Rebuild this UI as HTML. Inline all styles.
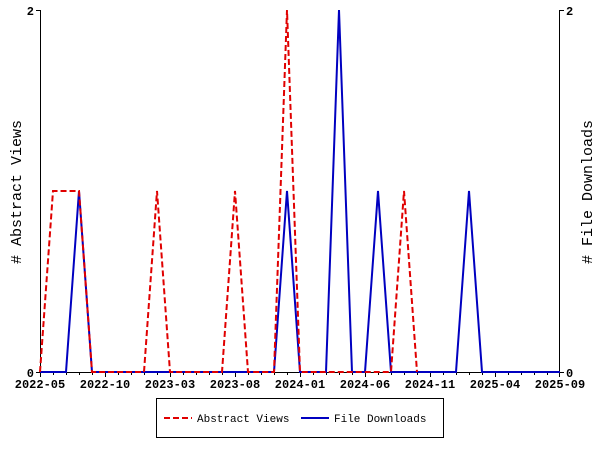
<!DOCTYPE html>
<html><head><style>body{margin:0;background:#fff}svg{display:block}text{font-family:"Liberation Mono","DejaVu Sans Mono",monospace;fill:#000}</style></head>
<body>
<svg width="600" height="450" viewBox="0 0 600 450" xmlns="http://www.w3.org/2000/svg">
<rect width="600" height="450" fill="#fff"/>
<g stroke="#000" stroke-width="1" fill="none">
<line x1="40.5" y1="10" x2="40.5" y2="373"/>
<line x1="559.5" y1="10" x2="559.5" y2="373"/>
<line x1="40" y1="372.5" x2="560" y2="372.5"/>
<path d="M36 10.5H40M36 372.5H40M560 10.5H564M560 372.5H564"/>
<path d="M40.5 372v5M105.5 372v5M170.5 372v5M235.5 372v5M300.5 372v5M365.5 372v5M430.5 372v5M495.5 372v5M559.5 372v5"/>
<path d="M53.5 372v3M66.5 372v3M79.5 372v3M92.5 372v3M118.5 372v3M131.5 372v3M144.5 372v3M157.5 372v3M183.5 372v3M196.5 372v3M209.5 372v3M222.5 372v3M248.5 372v3M261.5 372v3M274.5 372v3M287.5 372v3M313.5 372v3M326.5 372v3M339.5 372v3M352.5 372v3M378.5 372v3M391.5 372v3M404.5 372v3M417.5 372v3M443.5 372v3M456.5 372v3M469.5 372v3M482.5 372v3M508.5 372v3M521.5 372v3M534.5 372v3M547.5 372v3"/>
</g>
<g font-size="12" font-weight="bold">
<text x="34" y="15" text-anchor="end">2</text>
<text x="34" y="377" text-anchor="end">0</text>
<text x="566" y="15">2</text>
<text x="566" y="377">0</text>
<g text-anchor="middle">
<text x="40" y="388">2022-05</text><text x="105" y="388">2022-10</text><text x="170" y="388">2023-03</text><text x="235" y="388">2023-08</text><text x="300" y="388">2024-01</text><text x="365" y="388">2024-06</text><text x="430" y="388">2024-11</text><text x="495" y="388">2025-04</text><text x="560" y="388">2025-09</text>
</g>
</g>
<text font-size="15" text-anchor="middle" transform="translate(21,192) rotate(-90)"># Abstract Views</text>
<text font-size="15" text-anchor="middle" transform="translate(592,192) rotate(-90)"># File Downloads</text>
<polyline fill="none" stroke="#0000c0" stroke-width="2" points="40,372 66,372 79,191 92,372 274,372 287,191 300,372 326,372 339,10 352,372 365,372 378,191 391,372 456,372 469,191 482,372 560,372"/>
<polyline fill="none" stroke="#e00000" stroke-width="2" stroke-dasharray="6,3" points="40,372 53,191 79,191 92,372 144,372 157,191 170,372 222,372 235,191 248,372 274,372 287,10 300,372 391,372 404,191 417,372"/>
<rect x="156.5" y="398.5" width="287" height="39" fill="#fff" stroke="#000"/>
<line x1="164" y1="418" x2="192" y2="418" stroke="#e00000" stroke-width="2" stroke-dasharray="6,3"/>
<text x="197" y="422" font-size="11">Abstract Views</text>
<line x1="301" y1="418" x2="329" y2="418" stroke="#0000c0" stroke-width="2"/>
<text x="334" y="422" font-size="11">File Downloads</text>
</svg>
</body></html>
